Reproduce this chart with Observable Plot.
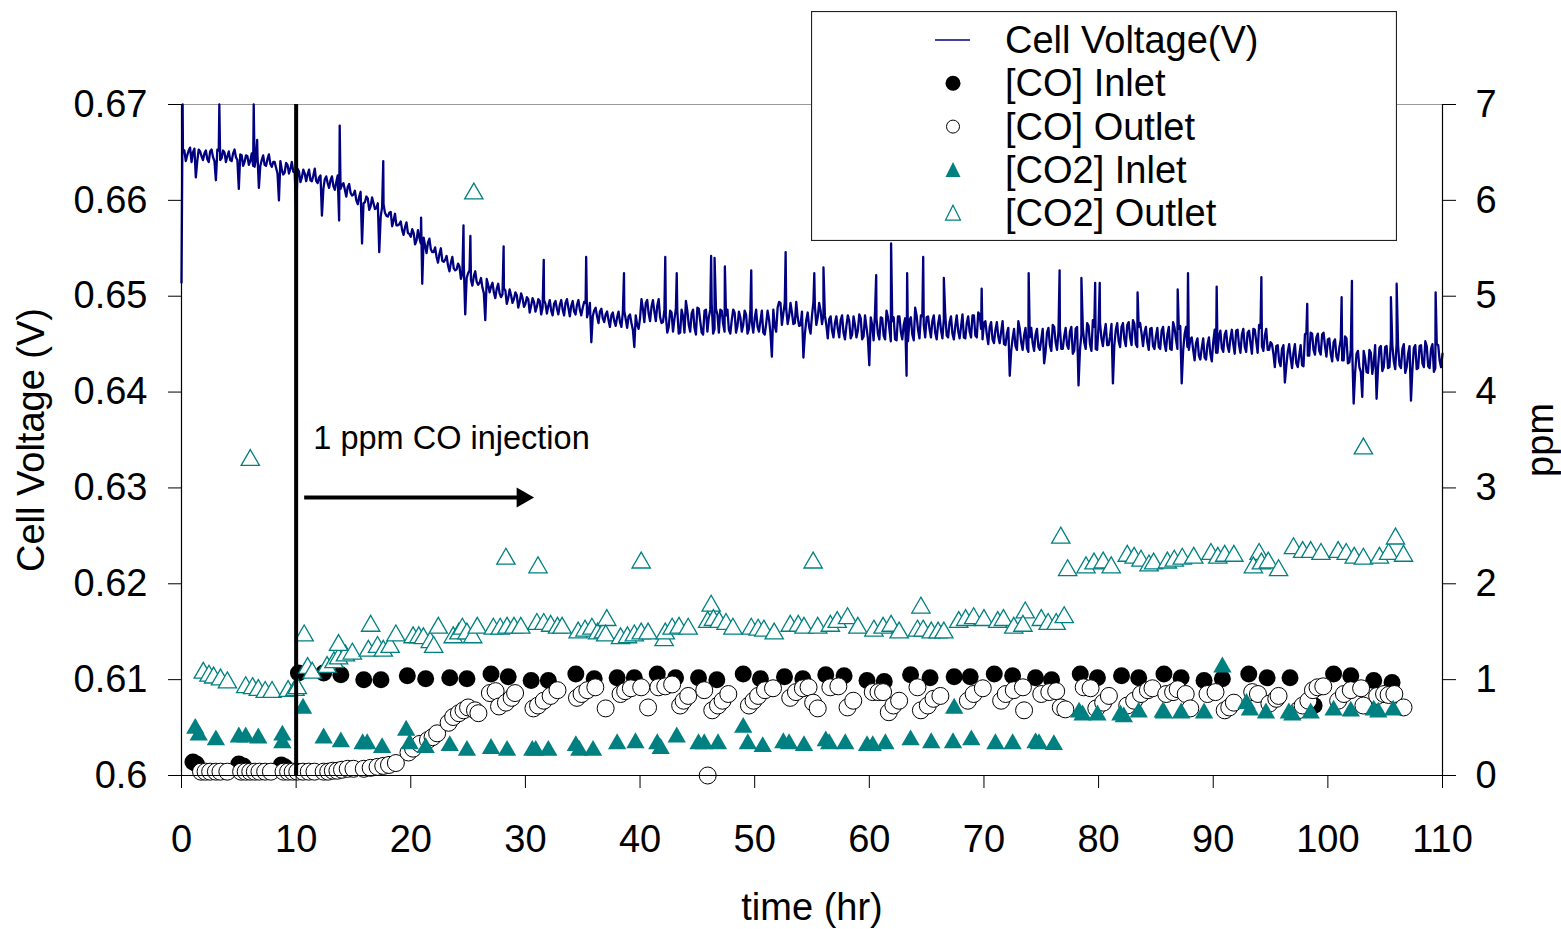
<!DOCTYPE html>
<html><head><meta charset="utf-8">
<script src="https://cdn.jsdelivr.net/npm/d3@7"></script>
<script src="https://cdn.jsdelivr.net/npm/@observablehq/plot@0.6"></script>
<style>
html,body{margin:0;padding:0;background:#fff;}
#wrap{position:relative;width:1561px;height:929px;font-family:"Liberation Sans",Arial,sans-serif;}
#legend{position:absolute;left:811px;top:11px;}
</style></head><body><div id="wrap"></div>
<script>
// ---- axis ticks ----
const xTicks = [0,10,20,30,40,50,60,70,80,90,100,110];
const yTicks = [0.6,0.61,0.62,0.63,0.64,0.65,0.66,0.67];
const yTickLabels = ["0.6","0.61","0.62","0.63","0.64","0.65","0.66","0.67"];
const ppmTicks = [0,1,2,3,4,5,6,7];

// ---- cell voltage (V), sampled every 0.25 hr from t = 0 ----
const voltStep = 0.25;
const voltBase = [
.6514,.6652,.6647,.6655, .6650,.6624,.6653,.6646, .6649,.6643,.6651,.6645, .6621,.6652,.6644,.6650,
.6646,.6642,.6649,.6645, .6612,.6647,.6640,.6646, .6641,.6636,.6644,.6613, .6642,.6637,.6643,.6638,
.6640,.6634,.6600,.6632, .6629,.6637,.6633,.6630, .6587,.6630,.6624,.6628, .6627,.6621,.6626,.6620,
.6624,.6584,.6622,.6618, .6621,.6615,.6619,.6579, .6616,.6611,.6614,.6608, .6606,.6600,.6604,.6555,
.6598,.6602,.6594,.6597, .6592,.6546,.6593,.6587, .6583,.6588,.6579,.6574, .6575,.6569,.6572,.6566,
.6562,.6566,.6558,.6561, .6513,.6553,.6556,.6549, .6546,.6541,.6544,.6537, .6538,.6532,.6535,.6529,
.6528,.6531,.6524,.6481, .6524,.6517,.6521,.6515, .6514,.6509,.6475,.6512, .6510,.6504,.6508,.6503,
.6502,.6506,.6498,.6501, .6497,.6501,.6494,.6498, .6492,.6497,.6490,.6494, .6489,.6495,.6488,.6492,
.6490,.6485,.6492,.6487, .6491,.6486,.6493,.6488, .6490,.6484,.6491,.6486, .6488,.6493,.6484,.6452,
.6485,.6479,.6484,.6477, .6481,.6475,.6480,.6474, .6478,.6473,.6483,.6476, .6479,.6472,.6447,.6470,
.6477,.6487,.6493,.6482, .6489,.6484,.6490,.6478, .6473,.6480,.6468,.6483, .6476,.6485,.6462,.6479,
.6495,.6470,.6482,.6467, .6488,.6474,.6460,.6486, .6478,.6492,.6466,.6481, .6486,.6471,.6480,.6465,
.6475,.6483,.6469,.6478, .6470,.6481,.6466,.6473, .6477,.6468,.6474,.6462, .6471,.6476,.6437,.6469,
.6488,.6493,.6482,.6487, .6479,.6483,.6472,.6478, .6470,.6436,.6475,.6468, .6480,.6490,.6478,.6485,
.6481,.6470,.6476,.6464, .6472,.6466,.6475,.6462, .6469,.6474,.6460,.6470, .6464,.6477,.6458,.6468,
.6428,.6470,.6484,.6461, .6478,.6459,.6485,.6466, .6474,.6455,.6479,.6463, .6470,.6417,.6475,.6460,
.6488,.6465,.6480,.6470, .6478,.6466,.6474,.6462, .6471,.6465,.6476,.6459, .6473,.6461,.6469,.6464,
.6468,.6457,.6472,.6463, .6480,.6459,.6483,.6466, .6472,.6460,.6468,.6455, .6465,.6458,.6463,.6450,
.6461,.6417,.6456,.6448, .6474,.6452,.6459,.6446, .6457,.6451,.6460,.6447, .6455,.6430,.6462,.6449,
.6470,.6452,.6463,.6445, .6458,.6449,.6463,.6440, .6466,.6407,.6460,.6452, .6472,.6450,.6475,.6445,
.6470,.6456,.6462,.6449, .6458,.6409,.6465,.6453, .6468,.6455,.6470,.6457, .6475,.6450,.6468,.6461,
.6462,.6452,.6466,.6448, .6458,.6447,.6464,.6451, .6460,.6445,.6473,.6455, .6466,.6409,.6460,.6447,
.6455,.6444,.6451,.6438, .6446,.6436,.6450,.6440, .6452,.6441,.6458,.6446, .6460,.6448,.6456,.6450,
.6464,.6449,.6460,.6447, .6462,.6451,.6466,.6453, .6470,.6448,.6459,.6444, .6452,.6440,.6448,.6432,
.6445,.6410,.6442,.6436, .6441,.6430,.6438,.6428, .6460,.6438,.6462,.6444, .6457,.6443,.6460,.6448,
.6455,.6440,.6452,.6437, .6446,.6433,.6458,.6430, .6444,.6388,.6440,.6426, .6395,.6435,.6420,.6441,
.6430,.6393,.6446,.6422, .6447,.6425,.6455,.6432, .6451,.6428,.6445,.6420, .6440,.6391,.6446,.6424,
.6448,.6430,.6453,.6427, .6445,.6421,.6450,.6433, .6440
];
// in-between samples (t = 0.125 + 0.25 i)
const voltMidStart = 0.125;
const voltMid = [
.6653,.6641,.6652,.6640, .6654,.6641,.6651,.6642, .6652,.6640,.6653,.6641, .6653,.6642,.6652,.6640,
.6651,.6641,.6653,.6642, .6648,.6636,.6647,.6637, .6649,.6635,.6648,.6636, .6647,.6636,.6648,.6635,
.6640,.6628,.6641,.6627, .6639,.6628,.6640,.6629, .6633,.6619,.6632,.6620, .6632,.6620,.6633,.6618,
.6626,.6612,.6625,.6613, .6625,.6611,.6626,.6612, .6618,.6604,.6617,.6605, .6610,.6596,.6609,.6597,
.6604,.6590,.6603,.6591, .6597,.6583,.6596,.6584, .6587,.6573,.6586,.6574, .6578,.6564,.6577,.6565,
.6570,.6554,.6569,.6555, .6561,.6545,.6560,.6546, .6551,.6535,.6550,.6536, .6542,.6526,.6541,.6527,
.6534,.6518,.6533,.6519, .6527,.6511,.6526,.6512, .6519,.6503,.6518,.6504, .6514,.6498,.6513,.6499,
.6508,.6492,.6507,.6493, .6504,.6488,.6503,.6489, .6499,.6483,.6498,.6484, .6497,.6481,.6496,.6482,
.6496,.6480,.6495,.6481, .6496,.6480,.6497,.6479, .6495,.6481,.6496,.6480, .6494,.6478,.6493,.6479,
.6488,.6472,.6487,.6473, .6484,.6468,.6483,.6469, .6484,.6468,.6485,.6467, .6481,.6465,.6480,.6466,
.6497,.6473,.6496,.6474, .6496,.6474,.6497,.6472, .6486,.6462,.6485,.6463, .6487,.6461,.6486,.6462,
.6485,.6463,.6486,.6460, .6487,.6462,.6485,.6463, .6486,.6461,.6487,.6462, .6485,.6463,.6486,.6461,
.6486,.6462,.6484,.6463, .6485,.6461,.6486,.6462, .6486,.6463,.6485,.6460, .6485,.6462,.6486,.6463,
.6494,.6470,.6493,.6471, .6493,.6471,.6494,.6469, .6484,.6460,.6483,.6461, .6494,.6470,.6493,.6471,
.6480,.6456,.6479,.6457, .6479,.6457,.6480,.6455, .6480,.6456,.6479,.6457, .6481,.6455,.6480,.6456,
.6478,.6454,.6477,.6455, .6477,.6455,.6478,.6453, .6478,.6454,.6479,.6455, .6477,.6453,.6478,.6454,
.6480,.6456,.6479,.6457, .6479,.6457,.6480,.6455, .6480,.6456,.6481,.6457, .6479,.6455,.6480,.6456,
.6481,.6456,.6479,.6457, .6480,.6457,.6481,.6455, .6474,.6450,.6473,.6451, .6473,.6451,.6474,.6449,
.6467,.6443,.6466,.6444, .6466,.6444,.6467,.6442, .6467,.6443,.6466,.6444, .6466,.6442,.6467,.6443,
.6468,.6444,.6467,.6445, .6467,.6445,.6468,.6443, .6468,.6444,.6467,.6445, .6469,.6443,.6468,.6444,
.6472,.6448,.6471,.6449, .6471,.6449,.6472,.6447, .6472,.6448,.6473,.6449, .6471,.6447,.6472,.6448,
.6468,.6444,.6467,.6445, .6467,.6445,.6468,.6443, .6468,.6444,.6467,.6445, .6469,.6443,.6468,.6444,
.6457,.6433,.6456,.6434, .6456,.6434,.6457,.6432, .6465,.6441,.6464,.6442, .6464,.6442,.6465,.6440,
.6465,.6441,.6466,.6442, .6464,.6440,.6465,.6441, .6467,.6443,.6466,.6444, .6450,.6426,.6449,.6427,
.6449,.6427,.6450,.6425, .6450,.6426,.6449,.6427, .6462,.6438,.6461,.6439, .6461,.6439,.6462,.6437,
.6456,.6432,.6455,.6433, .6455,.6433,.6456,.6431, .6444,.6420,.6443,.6421, .6443,.6421,.6444,.6419,
.6449,.6425,.6448,.6426, .6448,.6426,.6449,.6424, .6449,.6425,.6450,.6426, .6448,.6424,.6449,.6425,
.6449,.6426,.6448,.6425, .6450,.6425,.6449,.6426
];
// single-sample voltage spikes [time hr, V]
const voltSpikes = [
[0.1,0.670],[3.3,0.670],[6.3,0.670],[6.6,0.6663],[13.8,0.6678],[17.6,0.6641],[20.9,0.6582],
[24.6,0.6574],[25.2,0.6563],[28.1,0.6552],[31.6,0.6538],[35.3,0.6541],[38.6,0.6524],[42.2,0.6541],
[43.2,0.6524],[46.2,0.6542],[46.5,0.6540],[47.4,0.6531],[49.7,0.6527],[52.7,0.6546],[55.2,0.6524],
[56.0,0.6530],[60.6,0.6522],[61.9,0.6555],[63.3,0.6524],[64.7,0.6541],[66.5,0.6519],[69.8,0.6508],
[73.9,0.6524],[76.6,0.6527],[78.5,0.6519],[79.7,0.6514],[80.1,0.6514],[83.4,0.6504],[86.9,0.6507],
[87.8,0.6524],[90.3,0.6510],[94.2,0.6520],[98.2,0.6492],[101.2,0.6499],[102.1,0.6516],[105.5,0.6499],
[106.0,0.6513],[109.4,0.6504]
];

// ---- gas concentrations [time hr, ppm] ----
const coInlet = [
[1.0,0.14],[1.3,0.12],[5.0,0.12],[5.4,0.10],[8.7,0.11],[9.0,0.09],
[10.2,1.07],[12.4,1.07],[13.9,1.05],[15.9,1.00],[17.4,1.00],[19.7,1.04],[21.3,1.01],[23.4,1.02],
[24.9,1.01],[27.0,1.06],[28.5,1.03],[30.5,0.99],[32.0,0.99],[34.4,1.06],[36.0,1.01],[38.0,1.02],
[39.5,1.02],[41.5,1.06],[43.1,1.02],[45.1,1.02],[46.7,1.00],[49.0,1.06],[50.5,1.01],[52.6,1.03],
[54.2,1.01],[56.2,1.05],[57.8,1.04],[59.8,0.99],[61.3,0.98],[63.6,1.05],[65.3,1.02],[67.4,1.03],
[68.8,1.03],[70.9,1.06],[72.5,1.04],[74.5,1.02],[75.9,1.00],[78.4,1.06],[79.9,1.02],[82.0,1.04],
[83.5,1.02],[85.7,1.06],[87.2,1.02],[89.2,0.99],[90.8,1.01],[93.1,1.06],[94.7,1.02],[96.7,1.02],
[98.8,0.73],[100.5,1.06],[102.0,1.04],[104.0,0.99],[105.6,0.97]
];
const coOutlet = [
[1.7,0.04],[2.1,0.04],[2.5,0.04],[3.0,0.04],[3.4,0.04],[4.0,0.04],
[5.2,0.04],[5.6,0.04],[6.0,0.04],[6.4,0.04],[6.8,0.04],[7.3,0.04],[7.8,0.04],
[8.9,0.04],[9.3,0.04],[9.7,0.04],[10.1,0.04],[10.6,0.04],[11.1,0.04],[11.6,0.04],
[12.4,0.04],[12.8,0.04],[13.2,0.05],[13.6,0.05],[14.0,0.06],[14.5,0.07],[15.0,0.07],
[15.9,0.07],[16.5,0.08],[17.1,0.09],[17.6,0.10],[18.1,0.11],[18.7,0.13],
[19.8,0.24],[20.2,0.28],[20.8,0.33],[21.5,0.37],[21.9,0.40],[22.3,0.44],
[23.3,0.55],[23.7,0.61],[24.2,0.65],[24.6,0.68],[25.0,0.71],[25.6,0.68],[25.9,0.65],
[26.9,0.86],[27.4,0.88],[27.7,0.72],[28.3,0.76],[28.8,0.81],[29.1,0.86],
[30.7,0.70],[31.1,0.73],[31.6,0.78],[32.2,0.83],[32.8,0.89],
[34.5,0.81],[34.9,0.85],[35.4,0.89],[36.1,0.92],[37.0,0.70],
[38.3,0.85],[38.7,0.88],[39.2,0.91],[40.1,0.92],[40.7,0.71],[41.6,0.92],[42.2,0.93],[42.8,0.95],
[43.5,0.73],[43.8,0.78],[44.2,0.83],[45.6,0.89],[45.9,0.00],[46.3,0.68],[46.8,0.73],[47.2,0.78],[47.7,0.85],
[49.5,0.73],[49.9,0.78],[50.3,0.83],[50.9,0.89],[51.6,0.91],[53.1,0.81],[53.6,0.87],[54.2,0.91],[54.7,0.92],
[55.1,0.76],[55.5,0.70],[56.6,0.92],[57.3,0.93],[58.1,0.71],[58.6,0.78],[60.3,0.87],[60.8,0.87],[61.2,0.87],
[61.7,0.66],[62.1,0.73],[62.6,0.78],[64.2,0.92],[64.5,0.68],[65.1,0.73],[65.6,0.80],[66.2,0.83],
[68.6,0.78],[69.1,0.85],[69.9,0.91],[71.5,0.78],[71.9,0.85],[72.6,0.89],[73.4,0.92],[73.5,0.68],
[75.0,0.85],[75.7,0.87],[76.3,0.88],[76.7,0.71],[77.1,0.69],[78.7,0.92],[79.3,0.91],[79.8,0.70],[80.4,0.76],[80.9,0.83],
[82.5,0.73],[83.1,0.78],[83.7,0.85],[84.3,0.89],[84.7,0.91],[85.9,0.85],[86.5,0.87],[86.9,0.90],[87.6,0.85],[88.0,0.70],
[89.5,0.85],[90.2,0.87],[91.0,0.68],[91.4,0.71],[91.8,0.76],[93.4,0.87],[93.9,0.85],[94.9,0.75],[95.5,0.80],[95.7,0.83],
[97.4,0.68],[97.8,0.73],[98.3,0.78],[98.7,0.89],[99.1,0.92],[99.6,0.93],[100.9,0.78],[101.4,0.85],[102.0,0.89],[102.9,0.91],
[103.1,0.73],[104.3,0.83],[104.9,0.85],[105.3,0.84],[105.8,0.85],[106.6,0.71]
];
const co2Inlet = [
[1.2,0.49],[1.5,0.42],[3.0,0.37],[5.0,0.40],[5.6,0.40],[6.7,0.39],[8.8,0.42],[8.8,0.34],[10.6,0.70],
[12.4,0.39],[13.9,0.35],[15.8,0.33],[16.2,0.33],[17.5,0.29],[19.6,0.47],[19.9,0.33],[21.3,0.29],
[23.4,0.31],[24.9,0.26],[27.0,0.28],[28.4,0.26],[30.6,0.26],[30.9,0.26],[32.0,0.26],[34.4,0.31],
[34.7,0.26],[35.9,0.26],[38.0,0.33],[39.6,0.34],[41.5,0.33],[41.8,0.28],[43.2,0.40],[45.1,0.33],
[45.6,0.33],[46.8,0.33],[49.0,0.50],[49.4,0.33],[50.7,0.30],[52.5,0.34],[53.0,0.33],[54.3,0.31],
[56.2,0.36],[56.5,0.33],[57.9,0.33],[59.8,0.31],[60.3,0.31],[61.4,0.33],[63.6,0.37],[65.4,0.34],
[67.3,0.34],[67.4,0.70],[68.9,0.37],[71.0,0.33],[72.5,0.33],[74.5,0.34],[74.8,0.33],[76.1,0.32],
[78.3,0.66],[78.6,0.63],[79.9,0.63],[81.9,0.63],[82.2,0.61],[83.5,0.66],[85.6,0.66],[85.7,0.65],
[87.2,0.65],[89.2,0.65],[90.8,1.13],[92.9,0.75],[93.2,0.68],[94.6,0.65],[96.6,0.65],[96.9,0.63],
[98.5,0.65],[100.5,0.68],[102.0,0.67],[104.0,0.68],[104.4,0.66],[105.7,0.68]
];
const co2Outlet = [
[1.9,1.07],[2.4,1.04],[2.8,1.02],[3.4,1.00],[4.0,0.97],[5.6,0.92],[6.2,0.91],[6.7,0.89],[7.3,0.87],[7.9,0.87],
[9.3,0.88],[9.9,0.89],[10.1,0.91],[10.7,1.46],[11.0,1.12],[11.4,1.07],[12.7,1.13],[13.3,1.18],[13.7,1.22],
[14.3,1.25],[14.9,1.27],[13.7,1.36],[16.5,1.56],[16.3,1.30],[17.1,1.34],[17.6,1.30],[18.2,1.34],[18.7,1.46],
[20.2,1.44],[20.7,1.44],[21.1,1.43],[21.7,1.39],[22.0,1.34],[22.4,1.54],[23.7,1.44],[24.2,1.48],[24.5,1.53],
[24.9,1.48],[25.4,1.44],[25.8,1.54],[27.2,1.53],[27.8,1.53],[28.4,1.54],[29.0,1.54],[29.6,1.54],[31.0,1.58],
[31.6,1.58],[32.2,1.56],[32.8,1.54],[33.2,1.54],[34.6,1.49],[35.2,1.51],[35.8,1.53],[36.3,1.48],[36.8,1.49],
[37.1,1.62],[37.0,1.46],[38.3,1.43],[38.9,1.44],[39.5,1.46],[40.1,1.48],[40.7,1.48],[42.1,1.41],[42.2,1.48],
[42.8,1.53],[43.4,1.54],[44.2,1.53],[46.2,1.77],[45.9,1.60],[46.4,1.62],[46.9,1.60],[47.5,1.58],[48.1,1.53],
[49.7,1.53],[50.3,1.52],[50.8,1.51],[51.7,1.48],[53.1,1.56],[53.8,1.56],[54.3,1.54],[55.5,1.54],[56.6,1.56],
[57.2,1.60],[58.1,1.64],[59.0,1.54],[60.4,1.51],[61.2,1.54],[61.9,1.56],[62.6,1.49],[64.5,1.75],[64.2,1.51],
[64.7,1.51],[65.4,1.49],[66.0,1.49],[66.5,1.49],[67.8,1.60],[68.4,1.62],[69.1,1.64],[70.0,1.62],[71.2,1.60],
[71.7,1.62],[72.6,1.54],[73.6,1.70],[73.4,1.56],[75.0,1.62],[75.6,1.58],[76.3,1.58],[77.0,1.65],[76.7,2.48],
[77.3,2.14],[78.9,2.17],[79.6,2.21],[80.4,2.22],[81.1,2.17],[82.5,2.29],[83.1,2.27],[83.7,2.24],[84.4,2.19],
[84.8,2.21],[86.0,2.22],[86.6,2.24],[87.3,2.26],[88.3,2.27],[89.8,2.31],[90.4,2.27],[91.0,2.29],[91.8,2.29],
[94.0,2.31],[93.5,2.17],[94.2,2.21],[94.8,2.22],[95.7,2.14],[97.0,2.37],[97.8,2.33],[98.5,2.33],[99.4,2.31],
[100.9,2.33],[101.6,2.31],[102.3,2.27],[103.1,2.26],[104.5,2.27],[105.3,2.31],[105.9,2.47],[106.6,2.29],
[25.5,6.07],[6.0,3.29],[28.3,2.26],[31.1,2.17],[40.1,2.22],[55.1,2.22],[103.1,3.41]
];

// ---- annotation ----
const injectionTime = 10;
const injectionLabel = {t: 11.5, v: 0.6351, text: "1 ppm CO injection"};
const injectionArrow = {t1: 10.7, tShaft: 29.9, t2: 30.7, v: 0.629};

// ---- build ----
const vMin = 0.6, ppmPerV = 100;           // right axis: 0 ppm at 0.60 V, 7 ppm at 0.67 V
const toV = p => vMin + p / ppmPerV;
const volt = voltBase.map((v, i) => ({t: i * voltStep, v}))
  .concat(voltMid.map((v, i) => ({t: voltMidStart + i * voltStep, v})))
  .concat(voltSpikes.map(([t, v]) => ({t, v})))
  .sort((a, b) => a.t - b.t);
const px = d => d[0], py = d => toV(d[1]);
const FONT = "'Liberation Sans', Arial, sans-serif";
const TEAL = "#008080";

const chart = Plot.plot({
  width: 1561, height: 929,
  marginLeft: 181, marginRight: 119, marginTop: 104, marginBottom: 154,
  x: {domain: [0, 110]},
  y: {domain: [0.6, 0.67]},
  style: {fontFamily: FONT, fontSize: "38px", color: "black", background: "white", overflow: "visible"},
  marks: [
    Plot.ruleY([0.67], {stroke: "#9a9a9a", strokeWidth: 1}),
    Plot.line(volt, {x: "t", y: "v", stroke: "#000080", strokeWidth: 2.3}),
    Plot.dot(coInlet, {x: px, y: py, r: 8.5, fill: "black", symbol: "circle"}),
    Plot.dot(coOutlet, {x: px, y: py, r: 8.5, fill: "white", stroke: "black", strokeWidth: 1, symbol: "circle"}),
    Plot.dot(co2Inlet, {x: px, y: py, r: 6.8, fill: TEAL, symbol: "triangle"}),
    Plot.dot(co2Outlet, {x: px, y: py, r: 6.8, fill: "white", stroke: TEAL, strokeWidth: 1.3, symbol: "triangle"}),
    Plot.ruleX([injectionTime], {stroke: "black", strokeWidth: 4}),
    Plot.ruleX([0], {stroke: "black", strokeWidth: 1.2}),
    Plot.ruleX([110], {stroke: "black", strokeWidth: 1.2}),
    Plot.ruleY([0.6], {stroke: "black", strokeWidth: 1.2}),
    Plot.axisX(xTicks, {anchor: "bottom", tickSize: 13, tickPadding: 37, label: null, fontSize: 38}),
    Plot.axisY(yTicks, {anchor: "left", tickSize: 13, tickPadding: 21, label: null, fontSize: 38,
      tickFormat: d => yTickLabels[yTicks.indexOf(d)]}),
    Plot.axisY(ppmTicks.map(toV), {anchor: "right", tickSize: 13, tickPadding: 20, label: null, fontSize: 38,
      tickFormat: d => String(Math.round((d - vMin) * ppmPerV))}),
    Plot.link([injectionArrow], {x1: "t1", x2: "tShaft", y1: "v", y2: "v", stroke: "black", strokeWidth: 4}),
    Plot.dot([injectionArrow], {x: "t2", y: "v", symbol: "triangle", rotate: 90, r: 7.5, fill: "black", dx: -11}),
    Plot.text([injectionLabel], {x: "t", y: "v", text: "text", textAnchor: "start", lineAnchor: "middle", fontSize: 32.5}),
    Plot.text(["time (hr)"], {frameAnchor: "bottom", dy: 132, textAnchor: "middle", lineAnchor: "middle", fontSize: 38}),
    Plot.text(["Cell Voltage (V)"], {frameAnchor: "left", dx: -150, rotate: -90, textAnchor: "middle", lineAnchor: "middle", fontSize: 38}),
    Plot.text(["ppm"], {frameAnchor: "right", dx: 98, rotate: -90, textAnchor: "middle", lineAnchor: "middle", fontSize: 38})
  ]
});
const wrap = document.getElementById("wrap");
wrap.appendChild(chart);

// ---- legend (overlaid, as in the original) ----
const legendItems = ["Cell Voltage(V)", "[CO] Inlet", "[CO] Outlet", "[CO2] Inlet", "[CO2] Outlet"];
const NS = "http://www.w3.org/2000/svg";
const lg = document.createElementNS(NS, "svg");
lg.setAttribute("id", "legend");
lg.setAttribute("width", 586); lg.setAttribute("height", 230);
lg.style.fontFamily = FONT;
const el = (tag, attrs) => { const e = document.createElementNS(NS, tag); for (const k in attrs) e.setAttribute(k, attrs[k]); lg.appendChild(e); return e; };
el("rect", {x: 0.5, y: 0.5, width: 585, height: 229, fill: "white", stroke: "#222", "stroke-width": 1.2});
const rowH = 43.3, base0 = 42, cx = 142;
legendItems.forEach((name, i) => {
  const baseY = base0 + i * rowH, cy = baseY - 13;
  if (i === 0) el("line", {x1: 124, x2: 159, y1: cy, y2: cy, stroke: "#000080", "stroke-width": 1.5});
  if (i === 1) el("circle", {cx, cy, r: 7.5, fill: "black"});
  if (i === 2) el("circle", {cx, cy, r: 6.5, fill: "white", stroke: "black", "stroke-width": 1});
  if (i >= 3) el("path", {d: `M${cx},${cy-8}L${cx+7.5},${cy+7}L${cx-7.5},${cy+7}Z`,
      fill: i === 3 ? TEAL : "white", stroke: TEAL, "stroke-width": i === 3 ? 0 : 1.2});
  const t = el("text", {x: 194, y: baseY, "font-size": 38, fill: "black"});
  t.textContent = name;
});
wrap.appendChild(lg);
</script></body></html>
